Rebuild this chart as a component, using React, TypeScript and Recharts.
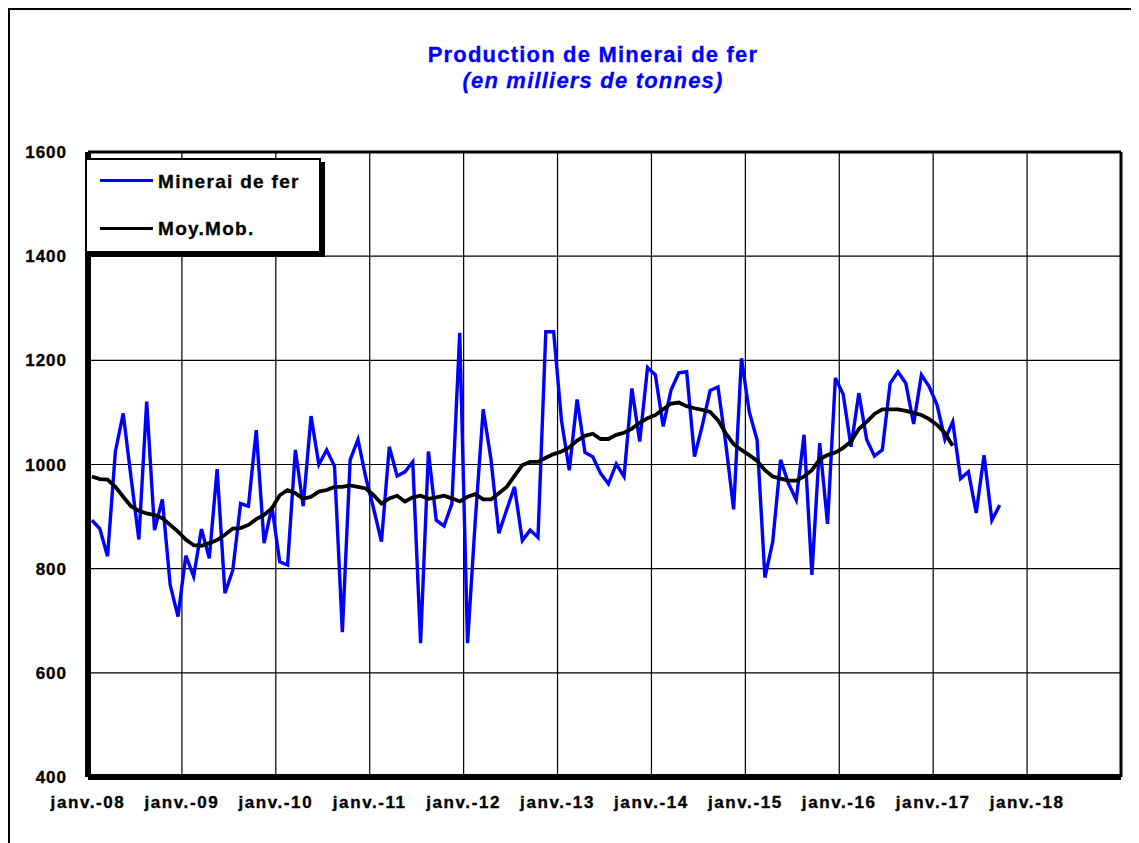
import React from "react";
import {
  LineChart,
  Line,
  XAxis,
  YAxis,
  CartesianGrid,
  ReferenceLine,
} from "recharts";

// tick labels
const yearLabels = [
  "janv.-08",
  "janv.-09",
  "janv.-10",
  "janv.-11",
  "janv.-12",
  "janv.-13",
  "janv.-14",
  "janv.-15",
  "janv.-16",
  "janv.-17",
  "janv.-18",
];
const yTicks = [400, 600, 800, 1000, 1200, 1400, 1600];

// production mensuelle (milliers de tonnes)
const prod2008 = [893, 877, 824, 1025, 1098, 975, 856, 1121, 874, 933, 769, 708];
const prod2009 = [825, 785, 876, 820, 991, 753, 797, 925, 920, 1066, 849, 919];
const prod2010 = [813, 807, 1028, 920, 1093, 1000, 1028, 997, 678, 1009, 1048, 975];
const prod2011 = [915, 852, 1034, 978, 986, 1005, 657, 1025, 893, 882, 925, 1253];
const prod2012 = [657, 895, 1106, 1009, 868, 913, 957, 854, 874, 860, 1255, 1255];
const prod2013 = [1085, 989, 1125, 1023, 1015, 983, 963, 1001, 977, 1146, 1044, 1186];
const prod2014 = [1172, 1073, 1143, 1176, 1178, 1015, 1075, 1142, 1149, 1040, 914, 1204];
const prod2015 = [1101, 1047, 783, 852, 1009, 964, 932, 1057, 788, 1041, 886, 1166];
const prod2016 = [1135, 1034, 1137, 1048, 1016, 1028, 1156, 1178, 1156, 1078, 1172, 1149];
const prod2017 = [1114, 1048, 1082, 973, 986, 907, 1018, 893, 922];

// moyenne mobile
const ma2008 = [977, 972, 971, 957, 938, 920, 911, 906, 903, 897, 884, 871];
const ma2009 = [856, 845, 844, 849, 855, 865, 877, 878, 884, 895, 903, 916];
const ma2010 = [941, 951, 945, 934, 938, 948, 951, 957, 957, 960, 957, 954];
const ma2011 = [941, 925, 935, 940, 929, 937, 940, 934, 937, 940, 935, 929];
const ma2012 = [938, 943, 933, 933, 945, 957, 978, 999, 1005, 1005, 1013, 1020];
const ma2013 = [1025, 1033, 1046, 1055, 1059, 1049, 1049, 1057, 1061, 1069, 1080, 1089];
const ma2014 = [1095, 1106, 1117, 1119, 1112, 1108, 1105, 1101, 1085, 1060, 1039, 1028];
const ma2015 = [1018, 1007, 989, 977, 973, 969, 969, 977, 989, 1010, 1018, 1023];
const ma2016 = [1032, 1044, 1068, 1082, 1097, 1106, 1106, 1106, 1103, 1099, 1095, 1087];
const ma2017 = [1076, 1060, 1036];

const production = [
  ...prod2008, ...prod2009, ...prod2010, ...prod2011, ...prod2012,
  ...prod2013, ...prod2014, ...prod2015, ...prod2016, ...prod2017,
];
const movingAvg = [
  ...ma2008, ...ma2009, ...ma2010, ...ma2011, ...ma2012,
  ...ma2013, ...ma2014, ...ma2015, ...ma2016, ...ma2017,
];

// x = months since janv. 2008, points sit mid-month
const data = production.map((v, i) => ({
  t: i + 0.5,
  prod: v,
  ma: i < movingAvg.length ? movingAvg[i] : null,
}));

const FONT = '"Liberation Sans", Arial, sans-serif';

const tickStyle = {
  fontFamily: FONT,
  fontSize: 17,
  fontWeight: "bold",
  stroke: "#000",
  strokeWidth: 0.35,
};

const XTick = (props: any) => {
  const { x, y, payload } = props;
  return (
    <text
      x={x}
      y={y}
      dy="0.71em"
      textAnchor="middle"
      fill="#000"
      style={{ ...tickStyle, letterSpacing: "1.6px" }}
    >
      {yearLabels[Math.round(payload.value / 12)]}
    </text>
  );
};

const YTick = (props: any) => {
  const { x, y, payload } = props;
  return (
    <text
      x={x}
      y={y}
      dy="0.355em"
      textAnchor="end"
      fill="#000"
      style={{ ...tickStyle, letterSpacing: "1px" }}
    >
      {payload.value}
    </text>
  );
};

export default function App() {
  return (
    <div
      style={{
        position: "relative",
        width: 1131,
        height: 835,
        borderTop: "2px solid #000",
        borderLeft: "2px solid #000",
        boxSizing: "border-box",
        fontFamily: FONT,
      }}
    >
      <style>{"html,body{overflow:hidden}"}</style>

      <div
        style={{
          position: "absolute",
          left: 283,
          top: 32,
          width: 600,
          textAlign: "center",
          color: "#0000FF",
          fontWeight: "bold",
          fontSize: 22,
          lineHeight: "26px",
          letterSpacing: "1.2px",
          WebkitTextStroke: "0.3px #0000FF",
        }}
      >
        <div>Production de Minerai de fer</div>
        <div style={{ fontStyle: "italic" }}>(en milliers de tonnes)</div>
      </div>

      <div style={{ position: "absolute", left: -2, top: -2 }}>
        <LineChart
          width={1131}
          height={835}
          data={data}
          margin={{ top: 144, right: 18, bottom: 26, left: 10 }}
        >
          <CartesianGrid stroke="#000" strokeWidth={1.2} />
          <XAxis
            dataKey="t"
            type="number"
            domain={[0, 132]}
            ticks={[0, 12, 24, 36, 48, 60, 72, 84, 96, 108, 120]}
            interval={0}
            height={40}
            tickLine={false}
            tickMargin={13}
            axisLine={{ stroke: "#000", strokeWidth: 6 }}
            tick={<XTick />}
          />
          <YAxis
            type="number"
            domain={[400, 1600]}
            ticks={yTicks}
            interval={0}
            width={70}
            tickLine={false}
            tickMargin={15}
            axisLine={{ stroke: "#000", strokeWidth: 6 }}
            tick={<YTick />}
          />
          <ReferenceLine y={1600} stroke="#000" strokeWidth={3} />
          <ReferenceLine x={132} stroke="#000" strokeWidth={3} />
          <Line
            dataKey="prod"
            stroke="#0000FF"
            strokeWidth={3.4}
            dot={false}
            isAnimationActive={false}
          />
          <Line
            dataKey="ma"
            stroke="#000"
            strokeWidth={3.8}
            dot={false}
            connectNulls={false}
            isAnimationActive={false}
          />
        </LineChart>
      </div>

      <div
        style={{
          position: "absolute",
          left: 75,
          top: 148,
          width: 232,
          height: 91,
          background: "#fff",
          border: "2px solid #000",
          boxShadow: "4px 4px 0 #000",
          fontWeight: "bold",
          fontSize: 19,
          letterSpacing: "1.3px",
          WebkitTextStroke: "0.3px #000",
        }}
      >
        <div style={{ position: "absolute", left: 13, top: 19, width: 53, height: 3, background: "#0000FF" }} />
        <div style={{ position: "absolute", left: 71, top: 10, lineHeight: "24px" }}>Minerai de fer</div>
        <div style={{ position: "absolute", left: 13, top: 67, width: 53, height: 3, background: "#000" }} />
        <div style={{ position: "absolute", left: 71, top: 57, lineHeight: "24px" }}>Moy.Mob.</div>
      </div>
    </div>
  );
}
